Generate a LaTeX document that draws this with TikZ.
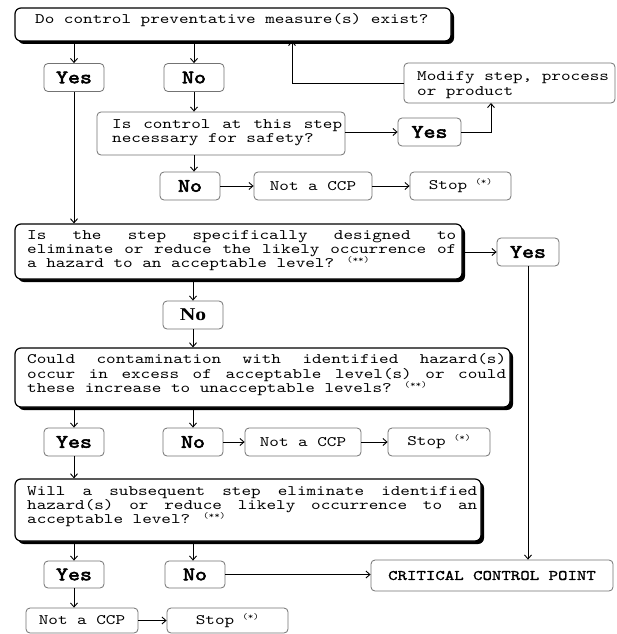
\documentclass[tikz,border=0pt]{standalone}
\usepackage{fontspec}
\newfontfamily\cour{lmmono10-regular.otf}[FakeStretch=1.26]
\newfontfamily\courb{lmmono10-regular.otf}[FakeStretch=1.2,FakeBold=3]
\newfontfamily\courm{lmmono10-regular.otf}[FakeStretch=1.24,FakeBold=1.2]
\newfontfamily\tnr{Liberation Serif}[FakeStretch=1.2]
\usetikzlibrary{arrows.meta,shadows}
\newcommand\qf{\cour\fontsize{14.5}{14.5}\selectfont}
\newcommand\yf{\courb\fontsize{19}{19}\selectfont}
\newcommand\supf{\cour\fontsize{8.5}{8.5}\selectfont}
\newcommand\fn[1]{\raisebox{5pt}{\supf #1}}
\begin{document}
\begin{tikzpicture}[x=1pt,y=-1pt,
  qbox/.style={draw=black, line width=1.2pt, rounded corners=6pt, fill=white,
    drop shadow={shadow xshift=3pt, shadow yshift=-3pt, fill=black, opacity=1},
    inner sep=0pt},
  sbox/.style={draw=black!55, line width=0.8pt, rounded corners=4pt, fill=white,
    inner sep=0pt, align=center, font=\qf},
  yn/.style={sbox, font=\yf, minimum width=60pt, minimum height=28pt},
  ln/.style={anchor=base west, inner sep=0pt, font=\qf, text height=8.5pt, text depth=2.5pt},
  conn/.style={draw=black, line width=0.9pt, -{Straight Barb[length=4pt,width=7pt]}}]
\fill[white] (0,0) rectangle (616,634);
\useasboundingbox (0,0) rectangle (616,634);

% ---- question boxes
\node[qbox, minimum width=436pt, minimum height=33pt] (q1) at (233,24.5) {};
\node[ln] (q1t) at (35,24) {Do control preventative measure(s) exist?};

\node[sbox, minimum width=248pt, minimum height=43pt] (q1a) at (221,133.5) {};
\node[ln] (q1al1) at (112,128.5) {\hbox to 230pt{Is\hfill control\hfill at\hfill this\hfill step}};
\node[ln] (q1al2) at (112,142.5) {necessary for safety?};

\node[qbox, minimum width=447pt, minimum height=55pt] (q2) at (238.5,251.5) {};
\node[ln] (q2l1) at (27,239.3) {\hbox to 429pt{Is\hfill the\hfill step\hfill specifically\hfill designed\hfill to}};
\node[ln] (q2l2) at (27,253.5) {\hbox to 429pt{eliminate\hfill or\hfill reduce\hfill the\hfill likely\hfill occurrence\hfill of}};
\node[ln] (q2l3) at (27,267.5) {a hazard to an acceptable level? \fn{(**)}};

\node[qbox, minimum width=495pt, minimum height=59pt] (q3) at (262.5,377.5) {};
\node[ln] (q3l1) at (27,363.7) {\hbox to 479pt{Could\hfill contamination\hfill with\hfill identified\hfill hazard(s)}};
\node[ln] (q3l2) at (27,378) {\hbox to 479pt{occur\hfill in\hfill excess\hfill of\hfill acceptable\hfill level(s)\hfill or\hfill could}};
\node[ln] (q3l3) at (27,392) {these increase to unacceptable levels? \fn{(**)}};

\node[qbox, minimum width=466pt, minimum height=62pt] (q4) at (248,510) {};
\node[ln] (q4l1) at (27,495.7) {\hbox to 450pt{Will\hfill a\hfill subsequent\hfill step\hfill eliminate\hfill identified}};
\node[ln] (q4l2) at (27,509.7) {\hbox to 450pt{hazard(s)\hfill or\hfill reduce\hfill likely\hfill occurrence\hfill to\hfill an}};
\node[ln] (q4l3) at (27,523.7) {acceptable level? \fn{(**)}};

% ---- modify box
\node[sbox, minimum width=211pt, minimum height=40pt] (mod) at (509.5,83) {};
\node[ln] (modl1) at (417,81) {Modify step, process};
\node[ln] (modl2) at (417,95) {or product};

% ---- yes / no boxes
\node[yn] (yes1) at (74,77.5) {Yes};
\node[yn] (no1) at (194,77.5) {No};
\node[yn, minimum width=63pt] (yes2) at (429.5,132) {Yes};
\node[yn] (no2) at (190,186) {No};
\node[yn, minimum width=62pt] (yes3) at (528,252) {Yes};
\node[yn, font=\tnr\bfseries\fontsize{18}{18}\selectfont] (no3) at (193,315) {No};
\node[yn] (yes4) at (74,442) {Yes};
\node[yn] (no4) at (193,442) {No};
\node[yn, minimum height=27pt] (yes5) at (74,574.5) {Yes};
\node[yn, minimum height=27pt] (no5) at (195,574.5) {No};

% ---- outcome boxes
\node[sbox, minimum width=118pt, minimum height=28pt] (ncc1) at (313,186) {Not a CCP};
\node[sbox, minimum width=101pt, minimum height=28pt] (stop1) at (460.5,186) {Stop\hspace{8pt}\fn{(*)}};
\node[sbox, minimum width=116pt, minimum height=28pt] (ncc2) at (303,442) {Not a CCP};
\node[sbox, minimum width=102pt, minimum height=28pt] (stop2) at (439,442) {Stop\hspace{8pt}\fn{(*)}};
\node[sbox, minimum width=112pt, minimum height=25pt] (ncc3) at (82,620.5) {Not a CCP};
\node[sbox, minimum width=121pt, minimum height=25pt] (stop3) at (227.5,620.5) {Stop\hspace{8pt}\fn{(*)}};
\node[sbox, minimum width=242pt, minimum height=31pt, font=\courm\fontsize{14.5}{14.5}\selectfont] (ccp) at (492,575.5) {CRITICAL CONTROL POINT};

% ---- helper coordinates
\coordinate (q1in) at (292,41);
\coordinate (modin) at (491,103);

% ---- connectors
\draw[conn] (q1.south -| yes1) -- (yes1.north);
\draw[conn] (q1.south -| no1) -- (no1.north);
\draw[conn] (no1.south) -- (no1.south |- q1a.north);
\draw[conn] (mod.west) -| (q1in);
\draw[conn] (yes2.west -| q1a.east) -- (yes2.west);
\draw[conn] (yes2.east) -| (modin);
\draw[conn] (no1.south |- q1a.south) -- (no1.south |- no2.north);
\draw[conn] (no2.east) -- (ncc1.west);
\draw[conn] (ncc1.east) -- (stop1.west);
\draw[conn] (yes1.south) -- (yes1.south |- q2.north);
\draw[conn] (yes3.west -| q2.east) -- (yes3.west);
\draw[conn] (q2.south -| no3) -- (no3.north);
\draw[conn] (no3.south) -- (no3.south |- q3.north);
\draw[conn] (q3.south -| yes4) -- (yes4.north);
\draw[conn] (q3.south -| no4) -- (no4.north);
\draw[conn] (no4.east) -- (ncc2.west);
\draw[conn] (ncc2.east) -- (stop2.west);
\draw[conn] (yes4.south) -- (yes4.south |- q4.north);
\draw[conn] (q4.south -| yes5) -- (yes5.north);
\draw[conn] (q4.south -| no4) -- (no4.south |- no5.north);
\draw[conn] (no5.east) -- (no5.east -| ccp.west);
\draw[conn] (yes3.south) -- (yes3.south |- ccp.north);
\draw[conn] (yes5.south) -- (yes5.south |- ncc3.north);
\draw[conn] (ncc3.east) -- (stop3.west);
\end{tikzpicture}
\end{document}
